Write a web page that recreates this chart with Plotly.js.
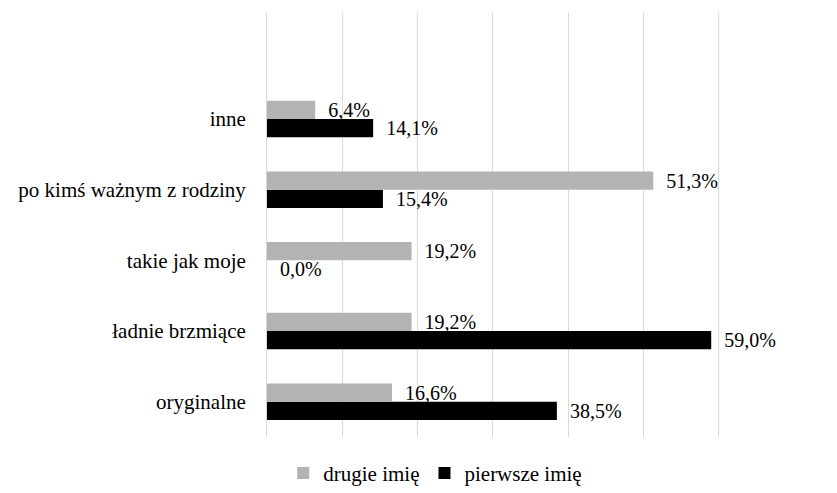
<!DOCTYPE html>
<html>
<head>
<meta charset="utf-8">
<script src="https://cdn.plot.ly/plotly-3.0.1.min.js"></script>
<style>html,body{margin:0;padding:0;background:#fff;}#chart{width:837px;height:493px;}</style>
</head>
<body>
<div id="chart"></div>
<script>
// Categories listed bottom-to-top
const categories = ['oryginalne', 'ładnie brzmiące', 'takie jak moje', 'po kimś ważnym z rodziny', 'inne'];
const drugieImie = [16.6, 19.2, 19.2, 51.3, 6.4];
const pierwszeImie = [38.5, 59.0, 0.0, 15.4, 14.1];
const seriesNames = ['drugie imię', 'pierwsze imię'];
const xTicks = [0, 10, 20, 30, 40, 50, 60];

const fmt = v => '\u00a0\u00a0' + v.toFixed(1).replace('.', ',') + '%';
const FONT = 'Times New Roman, Liberation Serif, serif';

const traces = [
  {
    type: 'bar', orientation: 'h', name: seriesNames[1],
    y: categories, x: pierwszeImie,
    marker: {color: '#000000'},
    text: pierwszeImie.map(fmt), textposition: 'outside', cliponaxis: false,
    constraintext: 'none',
    textfont: {family: FONT, size: 20, color: '#000'},
    legendrank: 2, hoverinfo: 'none'
  },
  {
    type: 'bar', orientation: 'h', name: seriesNames[0],
    y: categories, x: drugieImie,
    marker: {color: '#b3b3b3'},
    text: drugieImie.map(fmt), textposition: 'outside', cliponaxis: false,
    constraintext: 'none',
    textfont: {family: FONT, size: 20, color: '#000'},
    legendrank: 1, hoverinfo: 'none'
  }
];

const layout = {
  width: 837, height: 493,
  margin: {l: 267, r: 116, t: 13, b: 56},
  paper_bgcolor: '#fff', plot_bgcolor: '#fff',
  font: {family: FONT, size: 20, color: '#000'},
  barmode: 'group', bargap: 0.484, bargroupgap: 0,
  showlegend: true,
  legend: {orientation: 'h', xref: 'container', x: 0.52, xanchor: 'center',
           yref: 'container', y: 0.04, yanchor: 'middle',
           font: {family: FONT, size: 21, color: '#000'}, itemwidth: 30},
  xaxis: {range: [0, 60.3], tickvals: xTicks, showticklabels: false, showgrid: true,
          gridcolor: '#d9d9d9', gridwidth: 1, zeroline: false, showline: false, ticks: ''},
  yaxis: {type: 'category', categoryorder: 'array', categoryarray: categories,
          range: [-0.5, 5.5], showgrid: false, zeroline: false, showline: true,
          linecolor: '#d9d9d9', ticks: '', ticklabelstandoff: 16,
          tickfont: {family: FONT, size: 21, color: '#000'}}
};

Plotly.newPlot('chart', traces, layout, {displayModeBar: false, staticPlot: true});
</script>
</body>
</html>
